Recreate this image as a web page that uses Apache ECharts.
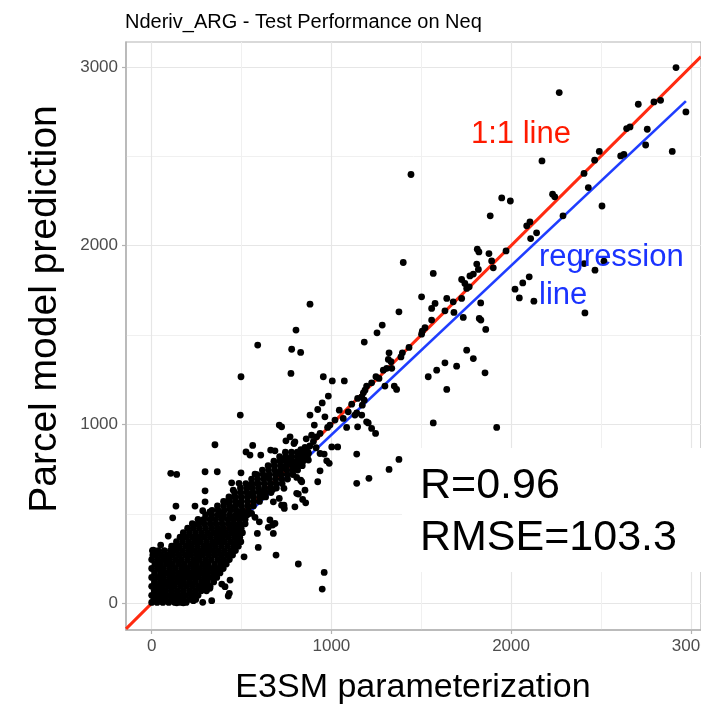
<!DOCTYPE html>
<html>
<head>
<meta charset="utf-8">
<script src="https://cdn.jsdelivr.net/npm/echarts@6/dist/echarts.min.js"></script>
<style>
  html, body { margin: 0; padding: 0; background: #fff; }
  #chart { width: 701px; height: 708px; }
</style>
</head>
<body>
<div id="chart"></div>
<script>
// axis ranges + ticks
var xRange = [-143, 3057];
var yRange = [-149, 3139];
var majorTicks = [0, 1000, 2000, 3000];
var minorTicks = [500, 1500, 2500];

// regression
var regSlope = 0.946;
var regIntercept = -4;

// scattered points, upper part (E3SM, parcel model)
var upperPts = [
  [1443,2398],[1948,2267],[1996,2250],[1884,2167],
  [2918,2996],[2268,2856],[2708,2791],[2795,2804],[2832,2813],[2973,2748],[2643,2655],[2662,2664],
  [2758,2651],[2749,2563],[2897,2527],[2491,2527],[2465,2478],[2610,2502],[2628,2511],[2172,2474],
  [2406,2404],[2430,2325],[2231,2288],[2243,2273],[2506,2222],[2289,2167],[2087,2111],[2105,2133],
  [2142,2072],[2109,2040],[1972,1971],[2101,1826],[2065,1792],[2022,1757],[2046,1708],[2127,1690],
  [2407,1900],[2467,1863],[2517,1913],[2411,1624]
];

// scattered points, middle part
var midPts = [
  [1400,1906],[1567,1845],[1812,1980],[1821,1965],[1877,1956],[1892,1915],[1809,1897],[1901,1876],
  [1818,1867],[1790,1841],[1771,1831],[1725,1811],[1743,1789],[1753,1761],[1767,1770],[1502,1714],
  [1642,1705],[1678,1686],[1725,1705],[1577,1677],[1558,1649],[1632,1636],[1682,1627],[1831,1680],
  [1734,1599],[1823,1593],[1832,1584],[1859,1532],[1376,1630],[1558,1584],[1521,1541],[1506,1522],
  [1502,1505],[1283,1556],[1254,1513],[1183,1461],[1432,1431],[1395,1401],[1387,1378],[1321,1401],
  [1317,1364],[1332,1351],[1308,1314],[1336,1314],[1289,1304],[1248,1267],[1265,1258],[1224,1233],
  [1196,1215],[1187,1192],[1178,1177],[1169,1155],[1146,1146],[1183,1136],[1113,1114],[1172,1108],
  [1094,1071],[1141,1065],[1169,1053],[1131,1053],[1205,1009],[1146,987],[1044,1080],[1066,1034],
  [1020,1025],[992,997],[979,984],[1298,1215],[1350,1215],[1363,1196],[955,1267],[1005,1244],
  [1072,1244],[983,1159],[949,1121],[924,1084],[964,1043],[1539,1267],[1586,1304],[1632,1345],
  [1697,1326],[1642,1196],[1753,1416],[1790,1369],[1855,1289],[1567,1009],[1920,984],
  [1196,1015],[1224,978],[1246,950],[1085,984],[937,950],[918,931],[1002,875],[1035,875],
  [937,838],[960,835],[1141,835],[974,797],[988,783],[937,741],[924,680],[1141,671],[1209,699],
  [1321,749],[1376,805],[960,173],[949,80]
];

// scattered points, lower-left part
var lowPts = [
  [881,1673],[803,1528],[590,1444],[779,1421],[829,1403],[775,1286],[497,1267],[493,1053],
  [881,1053],[710,997],[723,987],[905,997],
  [352,887],[562,883],[525,847],[547,829],[607,829],[662,857],[686,853],[747,909],[792,894],
  [853,872],[723,801],[766,801],[807,791],[106,727],[139,721],[297,736],[365,736],[497,730],
  [575,723],[636,708],[699,730],[445,674],[486,671],[297,629],[454,633],[460,596],[547,652],
  [588,671],[612,624],[556,605],[621,596],[673,637],[736,643],[853,633],[829,689],[807,615],
  [840,581],[857,562],[736,549],[677,568],[710,587],[135,544],[241,544],[297,568],[284,518],
  [324,512],[117,478],[413,568],[436,531],[487,559],[376,503],[398,484],[454,484],[495,499],
  [529,503],[575,481],[599,456],[658,466],[673,438],[686,447],[649,425],[677,391],[588,391],
  [235,438],[278,456],[180,372],[92,376],[50,326],[9,298],[6,270],[65,260],[111,320],[148,316],
  [593,313],[514,260],[692,270],[816,220],[436,130],[390,108],[324,84],[432,56],[426,41],
  [334,15],[284,6],[232,15],[176,3],[139,3],[120,37],[408,93],[297,112],[269,93],
  [770,931],[797,903],[816,611],[835,680],[807,704],[872,801],[825,819],[872,838],[797,764],
  [760,786],[742,764],[705,727],[723,549],[738,531],[797,540],[556,503],
  [880,880],[900,905],[850,850],[915,870],[860,920],[830,860],[890,940]
];

// dense cluster, read row by row: [parcel value, [E3SM values]]
var clusterRows = [
  [5,   [0, 30, 62, 95, 128, 160, 192]],
  [22,  [12, 45, 78, 110, 145, 178, 212, 245]],
  [45,  [0, 28, 60, 92, 125, 158, 190, 225, 258]],
  [70,  [14, 46, 78, 112, 144, 176, 210, 242, 276, 305]],
  [95,  [0, 30, 62, 96, 128, 162, 195, 228, 260, 292, 325]],
  [120, [15, 48, 80, 112, 146, 178, 212, 244, 278, 310, 345]],
  [145, [0, 32, 64, 98, 130, 164, 196, 230, 262, 296, 330, 362]],
  [170, [16, 50, 82, 114, 148, 180, 214, 246, 280, 312, 346, 380]],
  [195, [0, 34, 66, 100, 132, 166, 198, 232, 264, 298, 330, 364, 398]],
  [220, [18, 50, 84, 116, 150, 182, 216, 248, 282, 314, 350, 384, 415]],
  [245, [0, 34, 68, 100, 134, 166, 200, 234, 266, 300, 332, 368, 400, 432]],
  [270, [20, 52, 86, 118, 152, 186, 218, 252, 284, 318, 352, 386, 420, 450]],
  [295, [4, 36, 70, 104, 136, 170, 204, 236, 270, 302, 336, 370, 404, 438, 466]],
  [320, [120, 154, 188, 220, 254, 288, 320, 354, 388, 422, 456, 482]],
  [345, [138, 172, 206, 240, 272, 306, 340, 374, 406, 440, 472, 496]],
  [370, [158, 192, 226, 258, 292, 326, 360, 392, 426, 460, 490]],
  [395, [176, 210, 244, 278, 312, 346, 380, 412, 446, 478, 505]],
  [420, [200, 232, 266, 300, 334, 368, 400, 434, 466, 498]],
  [445, [226, 258, 292, 326, 358, 392, 426, 458, 490, 520]],
  [470, [258, 290, 324, 356, 390, 424, 456, 488, 520]],
  [495, [300, 334, 368, 400, 434, 468, 500, 532]],
  [520, [336, 370, 404, 438, 470, 504, 538]],
  [545, [366, 400, 434, 466, 500, 534, 566]],
  [570, [400, 434, 468, 500, 534, 568, 600]],
  [595, [430, 464, 498, 532, 566, 600, 634]],
  [620, [462, 496, 530, 564, 598, 632, 664]],
  [645, [494, 528, 560, 594, 628, 660, 694]],
  [670, [524, 558, 592, 626, 660, 692, 726]],
  [695, [556, 590, 624, 656, 690, 724, 756]],
  [720, [586, 620, 654, 688, 720, 754, 786]],
  [745, [616, 650, 684, 718, 752, 784, 812]],
  [770, [648, 682, 716, 748, 782, 814, 838]],
  [795, [680, 714, 748, 780, 812, 842]],
  [820, [712, 746, 778, 810, 842, 866]],
  [845, [744, 778, 810, 842, 870]]
];

var clusterPts = [];
clusterRows.forEach(function (row) {
  row[1].forEach(function (x) { clusterPts.push([x, row[0]]); });
});
var allPts = clusterPts.concat(lowPts, midPts, upperPts);

var xs = allPts.map(function (p) { return p[0]; });
var xMin = Math.min.apply(null, xs), xMax = Math.max.apply(null, xs);
var regLine = [[xMin, regSlope * xMin + regIntercept], [xMax, regSlope * xMax + regIntercept]];
var oneToOne = [[xRange[0], xRange[0]], [xRange[1], xRange[1]]];

var FONT = 'Liberation Sans, Arial, sans-serif';
var chart = echarts.init(document.getElementById('chart'));

function mkAxis(range, pos, isMinor) {
  return {
    type: 'value', min: range[0], max: range[1], position: pos,
    axisLine: { show: !isMinor, onZero: false, lineStyle: { color: '#b3b3b3', width: 1.5 } },
    axisTick: { show: !isMinor, length: 4, lineStyle: { color: '#b3b3b3', width: 1.2 },
                customValues: isMinor ? minorTicks : majorTicks },
    axisLabel: { show: !isMinor, customValues: majorTicks, color: '#4d4d4d',
                 fontSize: 17, fontFamily: FONT, margin: 8,
                 formatter: function (v) { return String(v); } },
    splitLine: { show: true, lineStyle: { color: isMinor ? '#f0f0f0' : '#e6e6e6', width: isMinor ? 1 : 1.2 } }
  };
}

chart.setOption({
  animation: false,
  grid: { left: 126, top: 42, width: 575, height: 588, outerBoundsMode: 'none', containLabel: false,
          show: true, borderColor: '#b3b3b3', borderWidth: 1.2 },
  xAxis: [mkAxis(xRange, 'bottom', false), mkAxis(xRange, 'bottom', true)],
  yAxis: [mkAxis(yRange, 'left', false), mkAxis(yRange, 'left', true)],
  series: [
    { type: 'line', data: regLine, showSymbol: false, silent: true, z: 2,
      lineStyle: { color: '#1f3dff', width: 2.6 } },
    { type: 'line', data: oneToOne, showSymbol: false, silent: true, z: 3,
      lineStyle: { color: '#ff2a10', width: 3 } },
    { type: 'scatter', data: allPts, symbolSize: 6.8, z: 4, silent: true,
      itemStyle: { color: '#000', opacity: 1 } }
  ],
  graphic: [
    { type: 'rect', z: 1, shape: { x: 402, y: 448, width: 299, height: 124 }, style: { fill: '#fff' } },
    { type: 'text', z: 10, style: { x: 125, y: 22, text: 'Nderiv_ARG - Test Performance on Neq',
        font: '20px ' + FONT, fill: '#000', verticalAlign: 'middle' } },
    { type: 'text', z: 10, style: { x: 471, y: 134, text: '1:1 line',
        font: '31px ' + FONT, fill: '#ff1a00', verticalAlign: 'middle' } },
    { type: 'text', z: 10, style: { x: 539, y: 257, text: 'regression',
        font: '31px ' + FONT, fill: '#1a33ff', verticalAlign: 'middle' } },
    { type: 'text', z: 10, style: { x: 539, y: 295, text: 'line',
        font: '31px ' + FONT, fill: '#1a33ff', verticalAlign: 'middle' } },
    { type: 'text', z: 10, style: { x: 420, y: 486, text: 'R=0.96',
        font: '43px ' + FONT, fill: '#000', verticalAlign: 'middle' } },
    { type: 'text', z: 10, style: { x: 420, y: 538, text: 'RMSE=103.3',
        font: '43px ' + FONT, fill: '#000', verticalAlign: 'middle' } },
    { type: 'text', z: 10, style: { x: 413, y: 688, text: 'E3SM parameterization',
        font: '34px ' + FONT, fill: '#000', align: 'center', verticalAlign: 'middle' } },
    { type: 'text', z: 10, x: 45, y: 309, rotation: Math.PI / 2,
      style: { x: 0, y: 0, text: 'Parcel model prediction',
        font: '39px ' + FONT, fill: '#000', align: 'center', verticalAlign: 'middle' } }
  ]
});
</script>
</body>
</html>
